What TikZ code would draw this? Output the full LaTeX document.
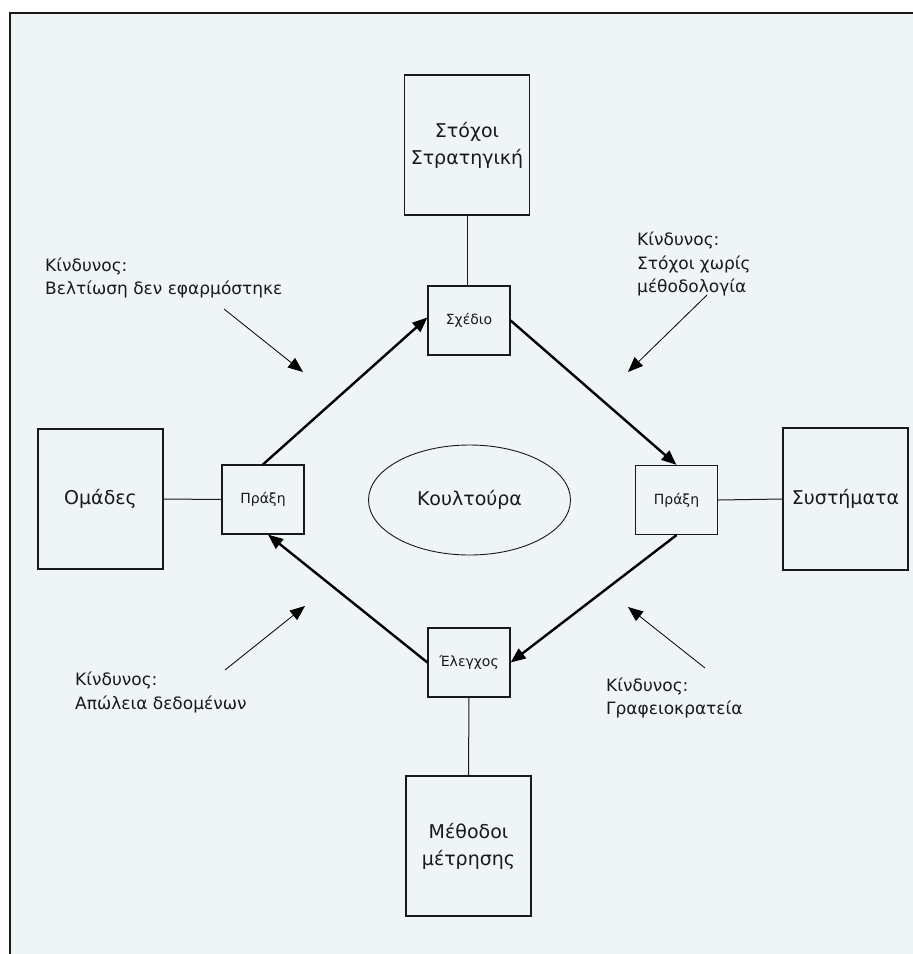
\documentclass[tikz,border=0pt]{standalone}
\usepackage{fontspec}
\setmainfont{DejaVu Sans}
\usetikzlibrary{arrows.meta,shapes.geometric}
\definecolor{bg}{RGB}{239,244,247}
\definecolor{ink}{RGB}{25,25,25}
\begin{document}
\begin{tikzpicture}[x=1pt,y=-1pt,
  bigbox/.style={draw=ink, line width=1.2pt, minimum width=125pt, minimum height=140pt, inner sep=0pt, align=center, font=\fontsize{19}{27}\selectfont, text=ink},
  smallbox/.style={draw=ink, line width=1.2pt, minimum width=82pt, minimum height=69pt, inner sep=0pt, font=\fontsize{14}{16}\selectfont, text=ink},
  flow/.style={line width=2.4pt, draw=black, -{Triangle[length=15pt,width=12pt]}},
  risk/.style={line width=0.8pt, draw=black, -{Triangle[length=15pt,width=12pt]}},
  risktext/.style={anchor=base west, inner sep=0pt, font=\fontsize{17}{20}\selectfont, text=ink},
  link/.style={line width=1pt, draw=ink}
]
\useasboundingbox (0,0) rectangle (913,954);
\fill[bg] (10,13) rectangle (913,954);
\draw[line width=1.5pt, ink] (913,13) -- (10,13) -- (10,954);

\node[bigbox] (stoch) at (467,145) {Στόχοι\\Στρατηγική};
\node[bigbox] (omad) at (100.5,499) {Ομάδες};
\node[bigbox, minimum height=142pt] (syst) at (845.5,499) {Συστήματα};
\node[bigbox] (meth) at (468.5,846) {Μέθοδοι\\μέτρησης};

\node[smallbox] (plan) at (469,320.5) {Σχέδιο};
\node[smallbox] (pL) at (263,499.5) {Πράξη};
\node[smallbox] (pR) at (676.5,500) {Πράξη};
\node[smallbox] (ctrl) at (469,662.5) {Έλεγχος};
\node[ellipse, draw=ink, line width=0.9pt, minimum width=202pt, minimum height=110pt, inner sep=0pt, font=\fontsize{19}{24}\selectfont, text=ink] (cult) at (469.5,500) {Κουλτούρα};

\draw[link] (stoch.south) -- (stoch.south |- plan.north);
\draw[link] (omad.east) -- (pL.west);
\draw[link] (pR.east) -- (syst.west);
\draw[link] (ctrl.south) -- (meth.north);

\draw[flow] (pL.north) -- ([yshift=3pt]plan.west);
\draw[flow] (plan.east) -- (pR.north);
\draw[flow] (pR.south) -- (ctrl.east);
\draw[flow] (ctrl.west) -- ([xshift=5pt]pL.south);

\coordinate (r1a) at (224,309); \coordinate (r1b) at (303,372);
\coordinate (r2a) at (707,295); \coordinate (r2b) at (628,372);
\coordinate (r3a) at (225,670); \coordinate (r3b) at (305,606);
\coordinate (r4a) at (705,668); \coordinate (r4b) at (628,607);
\draw[risk] (r1a) -- (r1b);
\draw[risk] (r2a) -- (r2b);
\draw[risk] (r3a) -- (r3b);
\draw[risk] (r4a) -- (r4b);

\node[risktext] (t1a) at (45,271) {Κίνδυνος:};
\node[risktext] (t1b) at (45,294) {Βελτίωση δεν εφαρμόστηκε};
\node[risktext] (t2a) at (637,245.5) {Κίνδυνος:};
\node[risktext] (t2b) at (637,269) {Στόχοι χωρίς};
\node[risktext] (t2c) at (637,292.5) {μέθοδολογία};
\node[risktext] (t3a) at (75,685) {Κίνδυνος:};
\node[risktext] (t3b) at (75,709) {Απώλεια δεδομένων};
\node[risktext] (t4a) at (606,691) {Κίνδυνος:};
\node[risktext] (t4b) at (606,714) {Γραφειοκρατεία};
\end{tikzpicture}
\end{document}
